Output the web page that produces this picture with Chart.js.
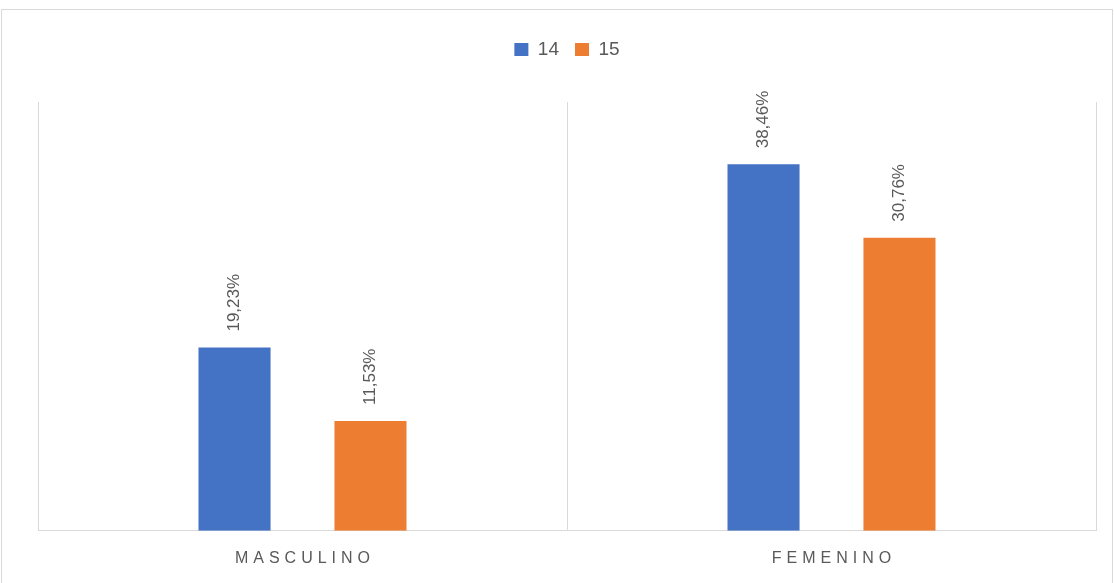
<!DOCTYPE html>
<html>
<head>
<meta charset="utf-8">
<script src="https://cdn.jsdelivr.net/npm/chart.js@4"></script>
<style>
  html, body { margin: 0; padding: 0; background: #fff; }
</style>
</head>
<body>
<canvas id="chart" width="1115" height="583"></canvas>
<script>
const categories = ['MASCULINO', 'FEMENINO'];
const seriesNames = ['14', '15'];
const values14 = [19.23, 38.46];
const values15 = [11.53, 30.76];
const valueLabels14 = ['19,23%', '38,46%'];
const valueLabels15 = ['11,53%', '30,76%'];

const textColor = '#595959';
const lineColor = '#d9d9d9';

// outer frame of the chart object
const framePlugin = {
    id: 'frame',
    beforeDraw(chart) {
        const c = chart.ctx;
        c.save();
        c.strokeStyle = lineColor;
        c.lineWidth = 1;
        c.strokeRect(1.5, 9.5, 1111, 580);
        c.restore();
    }
};

// extra room under the legend
const legendGap = {
    id: 'legendGap',
    beforeInit(chart) {
        const fit = chart.legend.fit;
        chart.legend.fit = function () {
            fit.bind(chart.legend)();
            this.height += 33;
        };
    }
};

// rotated value labels above each bar + spaced category labels
const labelPlugin = {
    id: 'labels',
    afterDatasetsDraw(chart) {
        const c = chart.ctx;
        const texts = [valueLabels14, valueLabels15];
        c.save();
        c.fillStyle = textColor;
        c.font = '17px "Liberation Sans", Arial, sans-serif';
        c.textAlign = 'left';
        c.textBaseline = 'middle';
        chart.data.datasets.forEach((ds, di) => {
            chart.getDatasetMeta(di).data.forEach((bar, i) => {
                c.save();
                c.translate(bar.x, bar.y - 16);
                c.rotate(-Math.PI / 2);
                c.fillText(texts[di][i], 0, 0);
                c.restore();
            });
        });
        const xs = chart.scales.x;
        c.font = '16px "Liberation Sans", Arial, sans-serif';
        c.letterSpacing = '5px';
        c.textAlign = 'center';
        categories.forEach((cat, i) => {
            c.fillText(cat, xs.getPixelForValue(i) + 2.5, 559);
        });
        c.restore();
    }
};

new Chart(document.getElementById('chart'), {
    type: 'bar',
    data: {
        labels: categories,
        datasets: [{
            label: seriesNames[0],
            data: values14,
            backgroundColor: '#4472C4',
            categoryPercentage: 0.514,
            barPercentage: 0.53
        }, {
            label: seriesNames[1],
            data: values15,
            backgroundColor: '#ED7D31',
            categoryPercentage: 0.514,
            barPercentage: 0.53
        }]
    },
    options: {
        responsive: false,
        animation: false,
        layout: {
            padding: { top: 24, left: 38, right: 19, bottom: 27 }
        },
        plugins: {
            legend: {
                labels: {
                    color: textColor,
                    boxWidth: 14,
                    boxHeight: 13,
                    padding: 16,
                    font: { size: 19, family: '"Liberation Sans", Arial, sans-serif' }
                }
            },
            tooltip: { enabled: false }
        },
        scales: {
            x: {
                grid: {
                    display: true,
                    offset: true,
                    color: lineColor,
                    drawTicks: false
                },
                border: { color: lineColor },
                ticks: {
                    color: 'rgba(0,0,0,0)',
                    padding: 3,
                    font: { size: 16 }
                }
            },
            y: {
                display: false,
                min: 0,
                max: 45
            }
        }
    },
    plugins: [framePlugin, legendGap, labelPlugin]
});
</script>
</body>
</html>
